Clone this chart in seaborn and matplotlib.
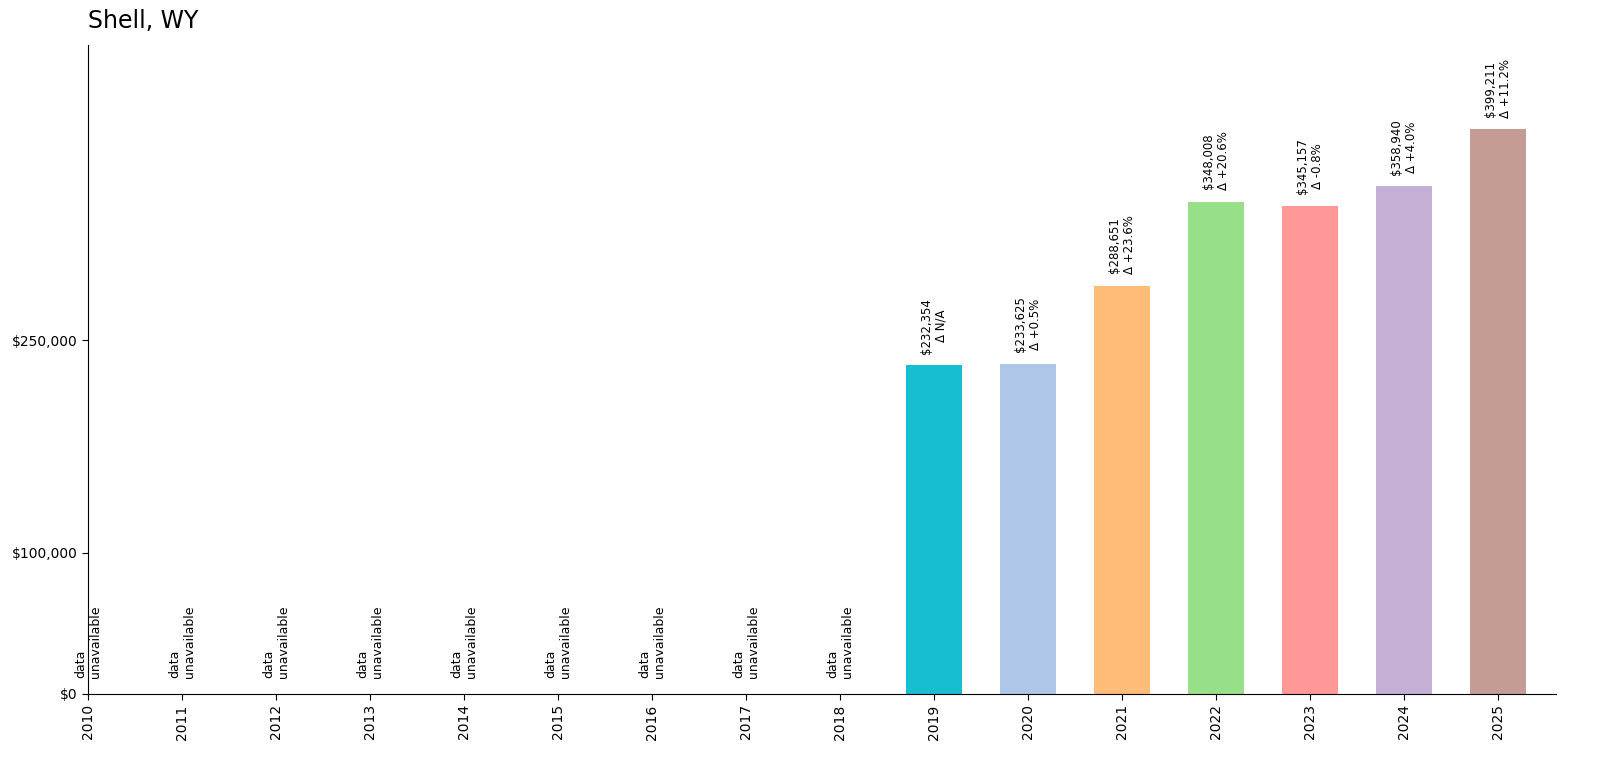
import pandas as pd
import numpy as np
import matplotlib
matplotlib.use('Agg')
import matplotlib.pyplot as plt
import seaborn as sns

years = [str(y) for y in range(2010, 2026)]
value_years = ['2019', '2020', '2021', '2022', '2023', '2024', '2025']
values = [232354, 233625, 288651, 348008, 345157, 358940, 399211]
changes = ['N/A', '+0.5%', '+23.6%', '+20.6%', '-0.8%', '+4.0%', '+11.2%']
bar_colors = ['#17becf', '#aec7e8', '#ffbb78', '#98df8a', '#ff9896', '#c5b0d5', '#c49c94']
missing_years = [y for y in years if y not in value_years]

df = pd.DataFrame({'year': value_years, 'value': values})

sns.set_style('white')
plt.rcParams['text.color'] = 'black'
plt.rcParams['xtick.color'] = 'black'
plt.rcParams['ytick.color'] = 'black'
plt.rcParams['axes.edgecolor'] = 'black'

fig = plt.figure(figsize=(16, 7.63), dpi=100)
ax = fig.add_axes([0.055, 0.0905, 0.9175, 0.851])

sns.barplot(data=df, x='year', y='value', hue='year', order=years,
            palette=bar_colors, width=0.6, legend=False, ax=ax, saturation=1,
            linewidth=0)

for y, v, c in zip(value_years, values, changes):
    pos = years.index(y)
    ax.text(pos, v + 8000, f'${v:,}\nΔ {c}', rotation=90, ha='center', va='bottom',
            fontsize=8.5, multialignment='center')

for y in missing_years:
    pos = years.index(y)
    ax.text(pos, 11500, 'data\nunavailable', rotation=90, ha='center', va='bottom',
            fontsize=9, multialignment='left')

ax.set_ylim(0, max(values) * 1.15)
ax.set_xlim(0, 15.62)
ax.set_yticks([0, 100000, 250000])
ax.set_yticklabels(['$0', '$100,000', '$250,000'], fontsize=10)
ax.tick_params(axis='x', labelrotation=90, labelsize=10)
ax.tick_params(axis='both', length=4, direction='out', bottom=True, left=True)
ax.set_xlabel('')
ax.set_ylabel('')
sns.despine(ax=ax)
ax.set_title('Shell, WY', loc='left', fontsize=17, pad=12)

fig.savefig('out.png', dpi=100)
